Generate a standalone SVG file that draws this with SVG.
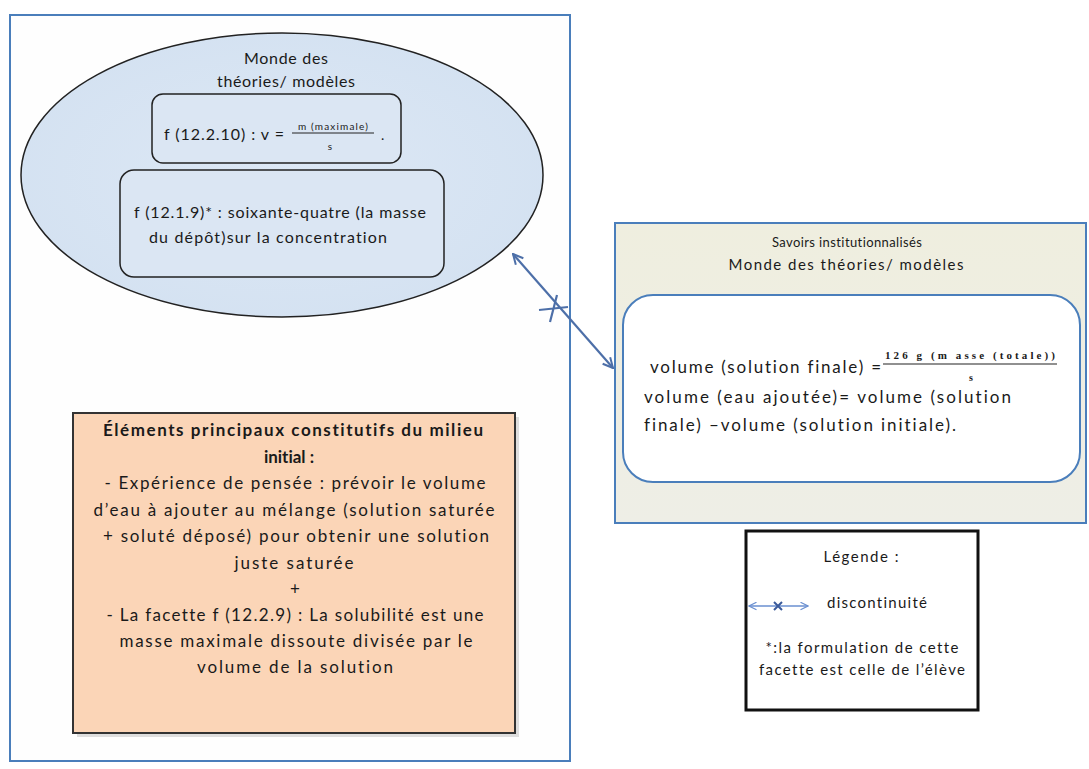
<svg xmlns="http://www.w3.org/2000/svg" width="1089" height="769" viewBox="0 0 1089 769">
<defs>
<style>
.t{font-family:Lato,"Liberation Sans",Arial,sans-serif;fill:#1a1a1a;font-variant-ligatures:none}
.c{text-anchor:middle}
.frac{font-family:"Liberation Serif",serif;fill:#1a1a1a}
.conn{stroke:#4d6fa8;stroke-width:2.2;fill:none}
</style>
<marker id="ah" viewBox="0 0 12 12" refX="11" refY="6" markerWidth="12" markerHeight="12" markerUnits="userSpaceOnUse" orient="auto-start-reverse">
<path d="M1,1 L11,6 L1,11" fill="none" stroke="#4d6fa8" stroke-width="2"/>
</marker>
<marker id="ahs" viewBox="0 0 12 12" refX="11" refY="6" markerWidth="9" markerHeight="9" markerUnits="userSpaceOnUse" orient="auto-start-reverse">
<path d="M1,1 L11,6 L1,11" fill="none" stroke="#6a8fd0" stroke-width="1.6"/>
</marker>
<radialGradient id="ell" cx="50%" cy="50%" r="60%">
<stop offset="0" stop-color="#dde8f5"/>
<stop offset="1" stop-color="#d3e1f1"/>
</radialGradient>
<linearGradient id="beige" x1="0" y1="0" x2="0" y2="1">
<stop offset="0" stop-color="#efeedf"/>
<stop offset="1" stop-color="#eeeee6"/>
</linearGradient>
</defs>
<rect width="1089" height="769" fill="#ffffff"/>

<g id="outer">
<rect x="10" y="15" width="560" height="746" fill="#fefefe" stroke="#4a7ebb" stroke-width="2"/>
</g>

<g id="ellipse-theories">
<ellipse cx="282" cy="175" rx="261" ry="142" fill="url(#ell)" stroke="#222" stroke-width="1.5"/>
<text class="t c" x="286" y="64" font-size="16" textLength="84">Monde des</text>
<text class="t c" x="286" y="87" font-size="16" textLength="138">théories/ modèles</text>
</g>

<g id="box-f12210">
<rect x="152" y="94" width="249" height="69" rx="11" fill="#dbe6f3" stroke="#222" stroke-width="1.5"/>
<text class="t" x="164" y="140" font-size="16" textLength="120">f (12.2.10) : v =</text>
<text class="t c" x="333" y="130" font-size="10" textLength="70">m (maximale)</text>
<line x1="292" y1="133" x2="374" y2="133" stroke="#222" stroke-width="1"/>
<text class="t c" x="330" y="150" font-size="10">s</text>
<text class="t" x="381" y="140" font-size="14">.</text>
</g>

<g id="box-f1219">
<rect x="120" y="170" width="324" height="107" rx="14" fill="#dbe6f3" stroke="#222" stroke-width="1.5"/>
<text class="t" x="134" y="218" font-size="16" textLength="292">f (12.1.9)* : soixante-quatre (la masse</text>
<text class="t" x="149" y="243" font-size="16" textLength="238">du dépôt)sur la concentration</text>
</g>

<g id="milieu-initial">
<rect x="77" y="417" width="442" height="320" fill="#bdbdbd" opacity="0.5"/>
<rect x="73" y="413" width="442" height="320" fill="#fbd5b7" stroke="#333" stroke-width="2"/>
<text class="t c" x="293" y="436" font-size="17" font-weight="bold" textLength="380">Éléments principaux constitutifs du milieu</text>
<text class="t c" x="289" y="463" font-size="17" font-weight="bold">initial :</text>
<text class="t c" x="295" y="489" font-size="17" textLength="381">- Expérience de pensée : prévoir le volume</text>
<text class="t c" x="294" y="516" font-size="17" textLength="401">d’eau à ajouter au mélange (solution saturée</text>
<text class="t c" x="296" y="542" font-size="17" textLength="386">+ soluté déposé) pour obtenir une solution</text>
<text class="t c" x="294" y="569" font-size="17" textLength="119">juste saturée</text>
<text class="t c" x="295" y="595" font-size="17">+</text>
<text class="t c" x="295" y="621" font-size="17" textLength="377">- La facette f (12.2.9) : La solubilité est une</text>
<text class="t c" x="296" y="647" font-size="17" textLength="353">masse maximale dissoute divisée par le</text>
<text class="t c" x="295" y="673" font-size="17" textLength="196">volume de  la solution</text>
</g>

<g id="savoirs-institutionnalises">
<rect x="615" y="223" width="471" height="300" fill="url(#beige)" stroke="#4a7ebb" stroke-width="2"/>
<text class="t c" x="847" y="247" font-size="13" textLength="150">Savoirs institutionnalisés</text>
<text class="t c" x="846" y="270" font-size="15" textLength="235">Monde des théories/ modèles</text>
<rect x="623" y="295" width="457" height="187" rx="30" fill="#ffffff" stroke="#4a7ebb" stroke-width="2"/>
<text class="t" x="650" y="373" font-size="17" textLength="231">volume (solution finale) =</text>
<text class="frac" x="885" y="359" font-size="11" font-weight="bold" textLength="170">126 g (m asse  (totale))</text>
<line x1="883" y1="364" x2="1057" y2="364" stroke="#222" stroke-width="1.2"/>
<text class="frac" x="969" y="381" font-size="10" font-weight="bold">s</text>
<text class="t" x="644" y="403" font-size="17" textLength="367">volume (eau ajoutée)= volume (solution</text>
<text class="t" x="644" y="431" font-size="17" textLength="312">finale) –volume (solution initiale).</text>
</g>

<g id="legende">
<rect x="746" y="531" width="232" height="179" fill="#ffffff" stroke="#111" stroke-width="3"/>
<text class="t c" x="861" y="562" font-size="15" textLength="75">Légende :</text>
<line x1="749" y1="606" x2="808" y2="606" stroke="#6a8fd0" stroke-width="1.6" marker-start="url(#ahs)" marker-end="url(#ahs)"/>
<path d="M774,602 L782,610 M782,602 L774,610" stroke="#3a5a9a" stroke-width="2"/>
<text class="t" x="827" y="608" font-size="15" textLength="100">discontinuité</text>
<text class="t c" x="862" y="653" font-size="15" textLength="193">*:la formulation de cette</text>
<text class="t c" x="862" y="675" font-size="15" textLength="206">facette est  celle de l’élève</text>
</g>

<g id="connectors">
<line class="conn" x1="513" y1="254" x2="613" y2="368" marker-start="url(#ah)" marker-end="url(#ah)"/>
<path class="conn" d="M539,310 L568,307 M557,295 L550,322"/>
</g>
</svg>
